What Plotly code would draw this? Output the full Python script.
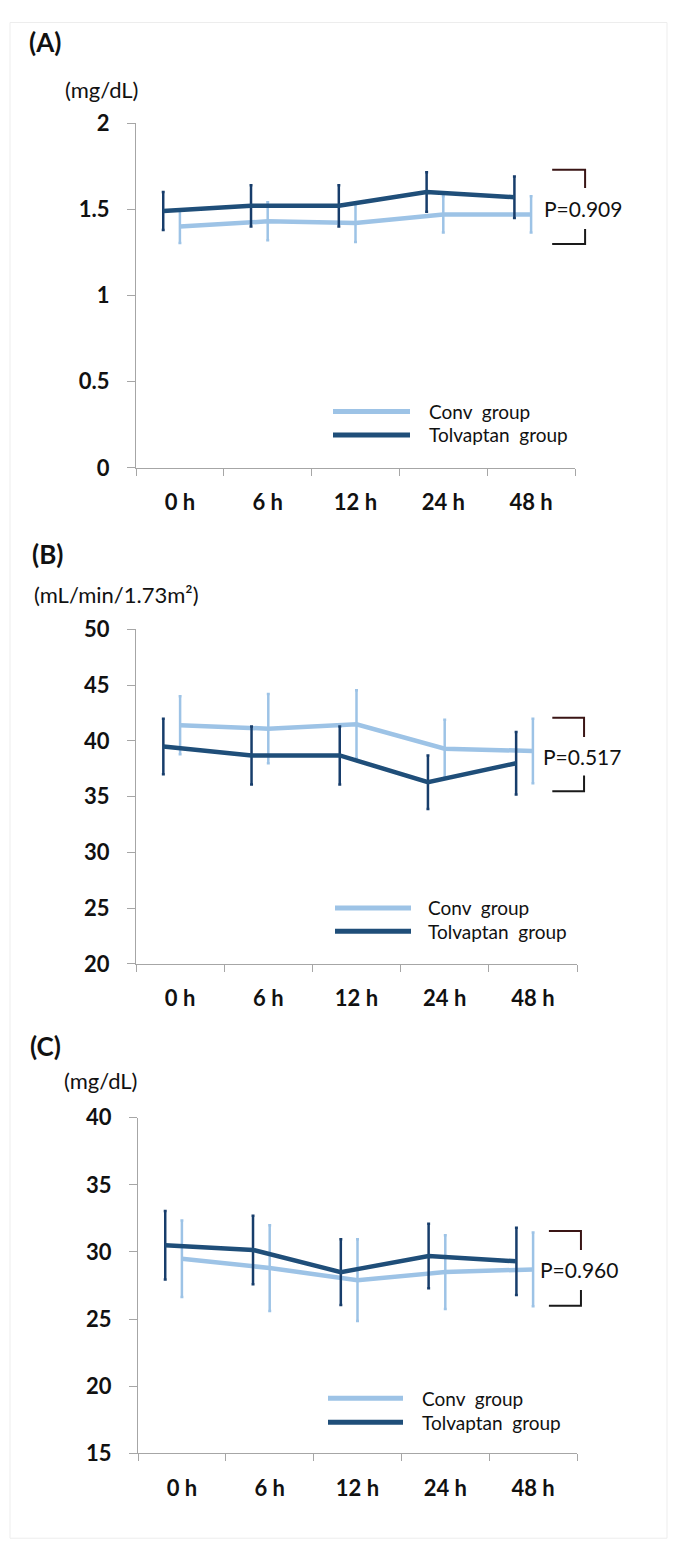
import plotly.graph_objects as go

# ---------------- data ----------------
times = ["0 h", "6 h", "12 h", "24 h", "48 h"]
conv_name = "Conv\u00a0 group"
tolv_name = "Tolvaptan\u00a0 group"

a_conv = [1.40, 1.43, 1.42, 1.47, 1.47]
a_conv_err = [0.095, 0.11, 0.11, 0.105, 0.105]
a_tolv = [1.49, 1.52, 1.52, 1.60, 1.57]
a_tolv_err = [0.11, 0.12, 0.12, 0.115, 0.12]

b_conv = [41.4, 41.1, 41.5, 39.3, 39.1]
b_conv_err = [2.6, 3.1, 3.05, 2.6, 2.9]
b_tolv = [39.5, 38.7, 38.7, 36.3, 38.0]
b_tolv_err = [2.5, 2.6, 2.6, 2.4, 2.8]

c_conv = [29.5, 28.8, 27.9, 28.5, 28.7]
c_conv_err = [2.85, 3.2, 3.05, 2.75, 2.75]
c_tolv = [30.5, 30.15, 28.5, 29.7, 29.3]
c_tolv_err = [2.55, 2.55, 2.45, 2.4, 2.5]

p_values = ["P=0.909", "P=0.517", "P=0.960"]
panel_labels = ["(A)", "(B)", "(C)"]
unit_labels = ["(mg/dL)", "(mL/min/1.73m²)", "(mg/dL)"]
y_ranges = [(0, 2, 0.5), (20, 50, 5), (15, 40, 5)]

# ---------------- style / layout ----------------
PAGE_W, PAGE_H = 677, 1550
OFF = 8  # default body margin of the html page
W, H = PAGE_W - 2 * OFF, PAGE_H - 2 * OFF
CAL_A, CAL_B = 0.983, 15.0  # vertical calibration of the photographed page
FONT = "Lato"
CONV_COLOR = "#9dc3e6"
TOLV_COLOR = "#1f4e79"
TOLV_ERR_COLOR = "#173d6b"
AXIS_COLOR = "#a6a6a6"
TEXT_COLOR = "#111111"
TOLV_SHIFT = -0.19


def fx(p):
    return (p - OFF) / W


def fy(p):
    page = max((p - CAL_B) / CAL_A, OFF + 0.5)
    return 1 - (page - OFF) / H


panels = [
    dict(conv=a_conv, conv_err=a_conv_err, tolv=a_tolv, tolv_err=a_tolv_err,
         top=124, bottom=469, left=136, right=575,
         label_xy=(27, 43), unit_xy=(63, 90),
         leg_y=(412.7, 436.0), leg_x=(333, 410, 427),
         br=dict(x0=0.948, x1=1.023, ytop=(1.729, 1.623), ybot=(1.386, 1.299), tx=1.018, ty=1.507)),
    dict(conv=b_conv, conv_err=b_conv_err, tolv=b_tolv, tolv_err=b_tolv_err,
         top=630.7, bottom=965.3, left=136, right=577,
         label_xy=(30, 555), unit_xy=(32, 596),
         leg_y=(909.3, 932.7), leg_x=(335, 411, 426),
         br=dict(x0=0.944, x1=1.016, ytop=(42.09, 40.36), ybot=(36.9, 35.48), tx=1.011, ty=38.6)),
    dict(conv=c_conv, conv_err=c_conv_err, tolv=c_tolv, tolv_err=c_tolv_err,
         top=1119.3, bottom=1455, left=138, right=577,
         label_xy=(28, 1047), unit_xy=(62, 1082),
         leg_y=(1400, 1424), leg_x=(328, 403, 420),
         br=dict(x0=0.936, x1=1.009, ytop=(31.57, 30.15), ybot=(27.17, 26.0), tx=1.005, ty=28.66)),
]

fig = go.Figure()
layout = dict(width=W, height=H, margin=dict(l=0, r=0, t=0, b=0),
              paper_bgcolor="white", plot_bgcolor="white", showlegend=False,
              font=dict(family=FONT, color=TEXT_COLOR))
shapes = []
annotations = []

xpos = list(range(len(times)))
xpos_tolv = [i + TOLV_SHIFT for i in xpos]

for k, (p, (ymin, ymax, dt)) in enumerate(zip(panels, y_ranges)):
    n = "" if k == 0 else str(k + 1)
    xa, ya = "x" + n, "y" + n
    fig.add_trace(go.Scatter(
        x=xpos, y=p["conv"], mode="lines", name=conv_name,
        line=dict(color=CONV_COLOR, width=4.5),
        error_y=dict(type="data", array=p["conv_err"], color=CONV_COLOR, thickness=2.5, width=1.5),
        xaxis=xa, yaxis=ya, hoverinfo="skip"))
    fig.add_trace(go.Scatter(
        x=xpos_tolv, y=p["tolv"], mode="lines", name=tolv_name,
        line=dict(color=TOLV_COLOR, width=4.5),
        error_y=dict(type="data", array=p["tolv_err"], color=TOLV_ERR_COLOR, thickness=2.5, width=1.5),
        xaxis=xa, yaxis=ya, hoverinfo="skip"))

    layout["xaxis" + n] = dict(
        domain=[fx(p["left"]), fx(p["right"])], anchor=ya,
        range=[-0.5, len(times) - 0.5],
        tickmode="array", tickvals=xpos, ticktext=times, ticks="",
        showline=True, linecolor=AXIS_COLOR, linewidth=1,
        showgrid=False, zeroline=False,
        minor=dict(tickmode="linear", tick0=-0.5, dtick=1, ticks="outside",
                   ticklen=7, tickcolor=AXIS_COLOR, tickwidth=1, showgrid=False),
        tickfont=dict(family=FONT, size=22, color=TEXT_COLOR, weight="bold"),
        ticklabelstandoff=15)
    layout["yaxis" + n] = dict(
        domain=[fy(p["bottom"]), fy(p["top"])], anchor=xa,
        range=[ymin, ymax], tickmode="linear", tick0=ymin, dtick=dt,
        ticks="outside", ticklen=8, tickcolor=AXIS_COLOR, tickwidth=1,
        showline=True, linecolor=AXIS_COLOR, linewidth=1,
        showgrid=False, zeroline=False,
        tickfont=dict(family=FONT, size=22, color=TEXT_COLOR, weight="bold"),
        ticklabelstandoff=13)

    # panel label and unit
    annotations.append(dict(text=panel_labels[k], xref="paper", yref="paper",
                            x=fx(p["label_xy"][0]), y=fy(p["label_xy"][1]),
                            xanchor="left", yanchor="middle", showarrow=False,
                            font=dict(family=FONT, size=26, color=TEXT_COLOR, weight="bold")))
    annotations.append(dict(text=unit_labels[k], xref="paper", yref="paper",
                            x=fx(p["unit_xy"][0]), y=fy(p["unit_xy"][1]),
                            xanchor="left", yanchor="middle", showarrow=False,
                            font=dict(family=FONT, size=22, color=TEXT_COLOR)))

    # bracket with p value (domain-relative coordinates)
    def yd(v):
        return (v - ymin) / (ymax - ymin)
    br = p["br"]
    shapes.append(dict(type="path", xref=xa + " domain", yref=ya + " domain",
                       path=f"M{br['x0']},{yd(br['ytop'][0])} H{br['x1']} V{yd(br['ytop'][1])}",
                       line=dict(color="#3a1515", width=2)))
    shapes.append(dict(type="path", xref=xa + " domain", yref=ya + " domain",
                       path=f"M{br['x1']},{yd(br['ybot'][0])} V{yd(br['ybot'][1])} H{br['x0']}",
                       line=dict(color="#1a1a1a", width=2)))
    annotations.append(dict(text=p_values[k], xref=xa + " domain", yref=ya + " domain",
                            x=br["tx"], y=yd(br["ty"]), xanchor="center", yanchor="middle",
                            showarrow=False,
                            font=dict(family=FONT, size=21, color=TEXT_COLOR)))

    # manual legend
    lx0, lx1, ltx = p["leg_x"]
    for yy, col, name in [(p["leg_y"][0], CONV_COLOR, conv_name), (p["leg_y"][1], TOLV_COLOR, tolv_name)]:
        shapes.append(dict(type="line", xref="paper", yref="paper",
                           x0=fx(lx0), x1=fx(lx1), y0=fy(yy), y1=fy(yy),
                           line=dict(color=col, width=5)))
        annotations.append(dict(text=name, xref="paper", yref="paper",
                                x=fx(ltx), y=fy(yy), xanchor="left", yanchor="middle",
                                showarrow=False,
                                font=dict(family=FONT, size=19, color=TEXT_COLOR)))

# faint outer frame
shapes.append(dict(type="rect", xref="paper", yref="paper",
                   x0=fx(10), x1=fx(667), y0=fy(1540), y1=fy(10),
                   line=dict(color="#ededed", width=1), layer="below"))

layout["shapes"] = shapes
layout["annotations"] = annotations
fig.update_layout(**layout)
fig.write_html("out.html")
